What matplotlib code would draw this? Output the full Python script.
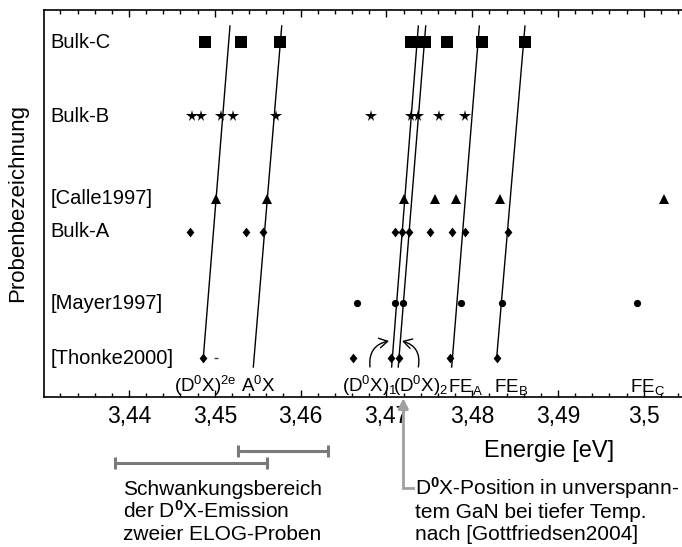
import matplotlib
matplotlib.use("Agg")
import matplotlib.pyplot as plt
from matplotlib.patches import FancyArrowPatch
from matplotlib.path import Path

plt.rcParams['font.family'] = ['Liberation Sans', 'DejaVu Sans']
plt.rcParams['mathtext.fontset'] = 'custom'
plt.rcParams['mathtext.rm'] = 'Liberation Sans'
plt.rcParams['mathtext.it'] = 'Liberation Sans:italic'
plt.rcParams['mathtext.bf'] = 'Liberation Sans:bold'

# ---- samples (y level) and peak energies in eV ----
sample_names = ['Bulk-C', 'Bulk-B', '[Calle1997]', 'Bulk-A', '[Mayer1997]', '[Thonke2000]']
sample_levels = [354.7, 280.7, 197.7, 165.0, 93.5, 38.7]

bulk_c = [3.44889, 3.45309, 3.45763, 3.47281, 3.47368, 3.47444, 3.47710, 3.48118, 3.48619]
bulk_b = [3.44731, 3.44839, 3.45069, 3.45212, 3.45713, 3.46817, 3.47283, 3.47365, 3.47617, 3.47916]
calle1997 = [3.45010, 3.45612, 3.47205, 3.47566, 3.47815, 3.48324, 3.50235]
bulk_a = [3.44711, 3.45360, 3.45558, 3.47100, 3.47178, 3.47267, 3.47512, 3.47765, 3.47916, 3.48414]
mayer1997 = [3.46654, 3.47106, 3.47197, 3.47866, 3.48344, 3.49917]
thonke2000 = [3.44866, 3.46614, 3.47059, 3.47147, 3.47741, 3.48285]
thonke_weak = [3.45010]

# ---- guide lines through related peaks: (E_top, E_bottom, y_bottom) ----
line_top_y = 370.7
guide_lines = [
    (3.45177, 3.44866, 38.7),   # (D0X)2e
    (3.45780, 3.45449, 29.7),   # A0X
    (3.47372, 3.47061, 29.7),   # (D0X)1
    (3.47458, 3.47138, 29.7),   # (D0X)2
    (3.48083, 3.47761, 29.7),   # FE_A
    (3.48615, 3.48285, 38.7),   # FE_B
]

# ---- transition labels ----
trans_labels = [r'(D$^{\mathrm{0}}$X)$^{\mathrm{2e}}$', r'A$^{\mathrm{0}}$X',
                r'(D$^{\mathrm{0}}$X)$_{\mathrm{1}}$', r'(D$^{\mathrm{0}}$X)$_{\mathrm{2}}$',
                r'FE$_{\mathrm{A}}$', r'FE$_{\mathrm{B}}$', r'FE$_{\mathrm{C}}$']
trans_pos = [3.44894, 3.45507, 3.46800, 3.47400, 3.47916, 3.48450, 3.50043]

# ---- x axis ----
xticks = [3.44, 3.45, 3.46, 3.47, 3.48, 3.49, 3.50]
xtick_labels = ['3,44', '3,45', '3,46', '3,47', '3,48', '3,49', '3,5']

# ---- D0X fluctuation ranges of two ELOG samples (eV) ----
elog_ranges = [(3.43837, 3.45605), (3.45274, 3.46323)]
elog_levels = [-66.6, -54.3]

# D0X position in unstrained GaN (Gottfriedsen 2004)
d0x_unstrained = 3.47197

fig = plt.figure(figsize=(6.82, 5.47), dpi=100)
ax = fig.add_axes([44.3 / 682, (547 - 396.7) / 547, 1 - 44.3 / 682, 386.7 / 547])
ax.set_xlim(3.43013, 3.50445)
ax.set_ylim(0, 386.7)

diamond = Path([(0, 1), (0.8, 0), (0, -1), (-0.8, 0), (0, 1)],
               [Path.MOVETO, Path.LINETO, Path.LINETO, Path.LINETO, Path.CLOSEPOLY])

series = [
    (bulk_c, sample_levels[0], 's', 8),
    (bulk_b, sample_levels[1], '*', 8.5),
    (calle1997, sample_levels[2], '^', 7),
    (bulk_a, sample_levels[3], diamond, 7),
    (mayer1997, sample_levels[4], 'o', 5.2),
    (thonke2000, sample_levels[5], diamond, 7),
]
for xs, lvl, mk, ms in series:
    ax.plot(xs, [lvl] * len(xs), linestyle='none', marker=mk, markersize=ms,
            color='black', markeredgewidth=0, zorder=3)
ax.plot(thonke_weak, [sample_levels[5]], linestyle='none', marker='_',
        markersize=2.5, color='#444444', zorder=3)

for e_top, e_bot, y_bot in guide_lines:
    ax.plot([e_top, e_bot], [line_top_y, y_bot], color='black', lw=1.0, zorder=2)

for lbl, x in zip(trans_labels, trans_pos):
    ax.text(x, 5, lbl, ha='center', va='baseline', fontsize=13.5)

# curved arrows pointing at the two D0X lines
for (x0, y0), (x1, y1), rad in [((3.46809, 29.7), (3.47030, 55.7), -0.45),
                                 ((3.47372, 29.7), (3.47182, 55.7), 0.45)]:
    ax.add_patch(FancyArrowPatch((x0, y0), (x1, y1), connectionstyle=f'arc3,rad={rad}',
                                 arrowstyle='->,head_length=6,head_width=3.5',
                                 color='black', lw=1.0, shrinkA=0, shrinkB=0))

# sample labels inside the frame
for name, lvl in zip(sample_names, sample_levels):
    ax.text(0.0095, lvl, name, transform=ax.get_yaxis_transform(), ha='left',
            va='center', fontsize=14.5)
ax.set_yticks([])

ax.set_xticks(xticks, xtick_labels)
ax.set_xticks([3.432 + 0.002 * i for i in range(37)], minor=True)
ax.tick_params(axis='x', which='both', direction='in', top=True, bottom=True,
               labelsize=16.5, pad=6, width=1)
ax.tick_params(axis='x', which='major', length=5)
ax.tick_params(axis='x', which='minor', length=3)
ax.spines['right'].set_visible(False)
for s in ('left', 'top', 'bottom'):
    ax.spines[s].set_linewidth(1.2)

ax.text(3.4890, -54, 'Energie [eV]', ha='center', va='center', fontsize=17)
fig.text(18 / 682, (547 - 203) / 547, 'Probenbezeichnung', rotation=90,
         ha='center', va='center', fontsize=16)

# fluctuation ranges
for (lo, hi), lvl in zip(elog_ranges, elog_levels):
    ax.errorbar([(lo + hi) / 2], [lvl], xerr=[(hi - lo) / 2], fmt='none',
                ecolor='#7a7a7a', elinewidth=2.2, capsize=4.6, capthick=2.2,
                clip_on=False)

text_x_left = 3.43934
baselines = [-98.3, -121.6, -143.3]
for t, y in zip(['Schwankungsbereich', r'der D$^{\mathbf{0}}$X-Emission', 'zweier ELOG-Proben'],
                baselines):
    ax.text(text_x_left, y, t, ha='left', va='baseline', fontsize=15)

# arrow marking the unstrained D0X position
ax.plot([3.4731, d0x_unstrained, d0x_unstrained], [-91.3, -91.3, -10],
        color='#a0a0a0', lw=2.0, clip_on=False, solid_joinstyle='miter')
ax.annotate('', xy=(d0x_unstrained, -1.5), xytext=(d0x_unstrained, -12),
            arrowprops=dict(arrowstyle='-|>,head_length=0.6,head_width=0.3',
                            color='#a0a0a0', lw=2.0, shrinkA=0, shrinkB=0),
            annotation_clip=False)
for t, y in zip([r'D$^{\mathbf{0}}$X-Position in unverspann-', 'tem GaN bei tiefer Temp.',
                 'nach [Gottfriedsen2004]'], baselines):
    ax.text(3.47333, y, t, ha='left', va='baseline', fontsize=15)

fig.savefig('out.png', dpi=100)
